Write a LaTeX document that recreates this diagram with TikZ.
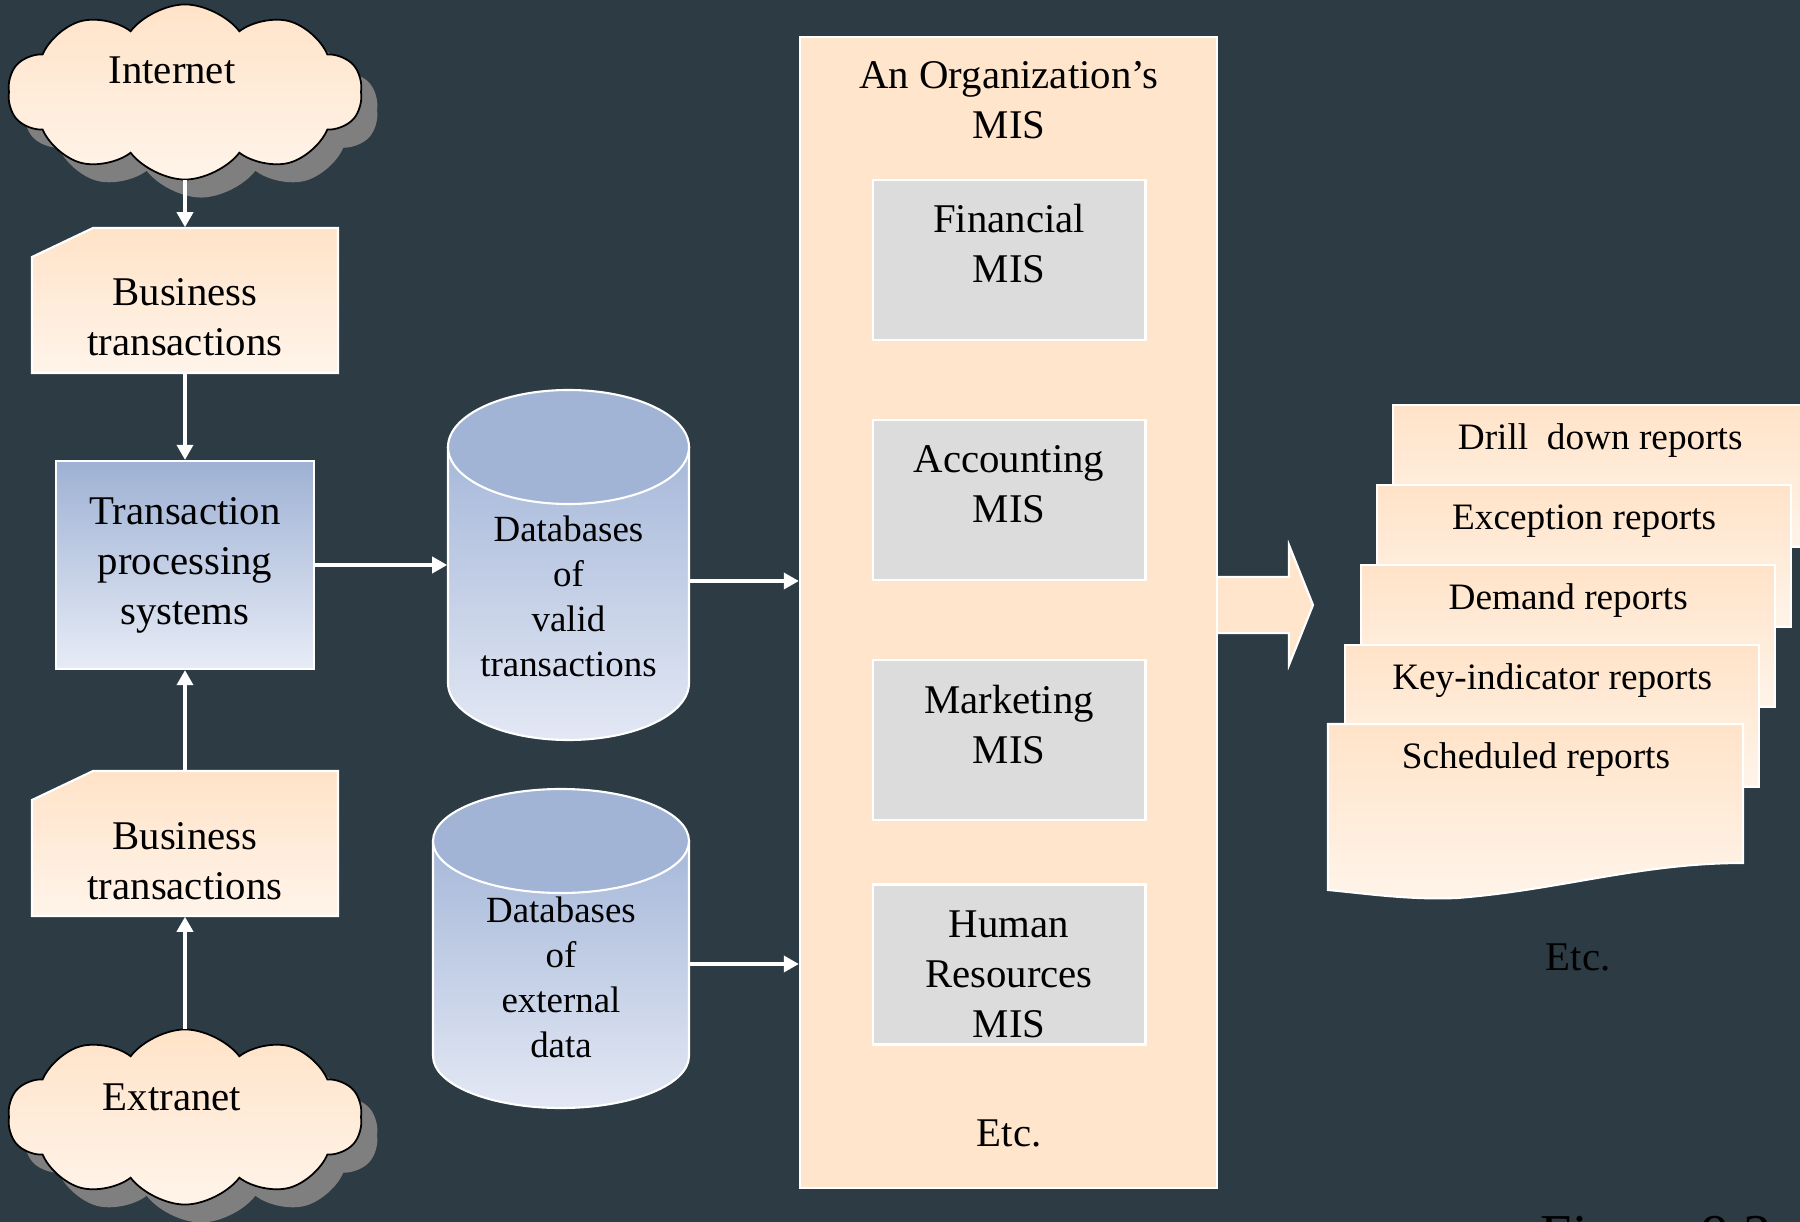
\documentclass[tikz,border=0pt]{standalone}
\usepackage{fontspec}
\setmainfont{Liberation Serif}
\usetikzlibrary{shapes.symbols, shadows, arrows.meta, calc}

\definecolor{bgdark}{HTML}{2C3B44}
\definecolor{peachtop}{HTML}{FFE3C8}
\definecolor{peachbot}{HTML}{FFF4EA}
\definecolor{misfill}{HTML}{FFE5CC}
\definecolor{subgray}{HTML}{DCDCDC}
\definecolor{tpstop}{HTML}{9EB1D4}
\definecolor{tpsbot}{HTML}{E7ECF6}
\definecolor{dbend}{HTML}{A2B4D6}
\definecolor{dbtop}{HTML}{A6B8D9}
\definecolor{dbbot}{HTML}{E3E8F4}
\definecolor{shadowgray}{HTML}{7F7F7F}

\newcommand{\mainsize}{\fontsize{11.6}{14.2}\selectfont}
\newcommand{\dbsize}{\fontsize{10.5}{12.8}\selectfont}
\newcommand{\repsize}{\fontsize{10.6}{12.6}\selectfont}

\tikzset{
  txt/.style={font=\mainsize, align=center, text=black, inner sep=0pt},
  arr/.style={draw=white, line width=1pt, -{Triangle[length=0.15cm, width=0.16cm]}},
  cloudy/.style={cloud, cloud puffs=10, cloud puff arc=105, aspect=2, inner sep=0pt,
    minimum width=3.54cm, minimum height=1.75cm, draw=black, line width=0.5pt,
    top color=peachtop, bottom color=peachbot,
    drop shadow={shadow xshift=0.16cm, shadow yshift=-0.18cm, fill=shadowgray, opacity=1}},
  bizfill/.style={draw=white, line width=0.6pt, top color=peachtop, bottom color=peachbot},
  bizbox/.style={minimum width=3.06cm, minimum height=1.45cm, inner sep=0pt},
  tpsbox/.style={txt, minimum width=2.57cm, minimum height=2.08cm, draw=white,
    line width=0.6pt, top color=tpstop, bottom color=tpsbot},
  dbbody/.style={draw=white, line width=0.6pt, top color=dbtop, bottom color=dbbot},
  dbtxt/.style={font=\dbsize, align=center, text=black, inner sep=0pt},
  misbox/.style={minimum width=4.17cm, minimum height=11.51cm, fill=misfill,
    draw=white, line width=0.6pt},
  subbox/.style={minimum width=2.72cm, minimum height=1.6cm, fill=subgray,
    draw=white, line width=0.8pt},
  report/.style={font=\repsize, text=black, minimum width=4.14cm, inner xsep=0pt,
    inner ysep=0pt, text height=0.44cm, text depth=0.98cm, draw=white,
    line width=0.6pt, top color=peachtop, bottom color=peachbot}
}

\begin{document}
\begin{tikzpicture}[x=0.01cm, y=-0.01cm]
  % Background
  \fill[bgdark] (0,0) rectangle (1800,1222);
  \useasboundingbox (0,0) rectangle (1800,1222);

  % Clouds
  \node[cloudy] (inet) at (185,92) {};
  \node[txt] (inettxt) at (172,70) {Internet};
  \node[cloudy] (extr) at (185,1117) {};
  \node[txt] (extrtxt) at (172,1097) {Extranet};

  % Business transactions
  \shade[bizfill] (32,373) -- (32,257) -- (93,228) -- (338,228) -- (338,373) -- cycle;
  \node[bizbox] (biz1) at (185,300.5) {};
  \node[txt] (biz1txt) at (185,317) {Business\\transactions};
  \shade[bizfill] (32,916) -- (32,800) -- (93,771) -- (338,771) -- (338,916) -- cycle;
  \node[bizbox] (biz2) at (185,843.5) {};
  \node[txt] (biz2txt) at (185,861) {Business\\transactions};

  % TPS
  \node[tpsbox] (tps) at (185,565) {Transaction\\processing\\systems};

  % Databases
  \shade[dbbody] (448,447) -- (448,683) arc[start angle=180, end angle=0, x radius=120.5, y radius=57] -- (689,447) -- cycle;
  \filldraw[fill=dbend, draw=white, line width=0.6pt] (568.5,447) ellipse[x radius=120.5, y radius=57];
  \node[dbtxt, minimum width=2.41cm] (db1) at (568.5,596) {Databases\\of\\valid\\transactions};
  \shade[dbbody] (433,841) -- (433,1056) arc[start angle=180, end angle=0, x radius=128, y radius=52] -- (689,841) -- cycle;
  \filldraw[fill=dbend, draw=white, line width=0.6pt] (561,841) ellipse[x radius=128, y radius=52];
  \node[dbtxt, minimum width=2.56cm] (db2) at (561,977) {Databases\\of\\external\\data};

  % Output arrow
  \filldraw[fill=misfill, draw=white, line width=0.6pt] (1217,577) -- (1289,577) -- (1289,545)
    -- (1313,605) -- (1289,665) -- (1289,633) -- (1217,633);

  % MIS
  \node[misbox] (mis) at (1008.5,612.5) {};
  \node[txt] (mistitle) at (1009,100) {An Organization’s\\MIS};
  \foreach \nm/\y/\dy/\txt in {fin/260/0.16/{Financial\\MIS}, acc/500/0.16/{Accounting\\MIS},
      mkt/740/0.15/{Marketing\\MIS}, hr/964.5/-0.1/{Human\\Resources\\MIS}} {
    \node[subbox] (\nm) at (1009,\y) {};
    \node[txt] (\nm txt) at ([yshift=\dy cm]\nm.center) {\txt};
  }
  \node[txt] (misetc) at (1009,1133) {Etc.};

  % Reports
  \foreach \i/\txt in {0/{Drill\ \ down reports}, 1/Exception reports, 2/Demand reports, 3/Key-indicator reports}
    \node[report, anchor=north west] (rep\i) at ({1392-16*\i},{404+80*\i}) {\txt};
  \shade[bizfill] (1328,890) -- (1328,724) -- (1743,724) -- (1743,863)
    .. controls (1640,863) and (1560,890) .. (1457,898)
    .. controls (1410,900) and (1370,894) .. (1328,890) -- cycle;
  \node[font=\repsize, text=black, inner sep=0pt] (rep4) at (1536,760) {Scheduled reports};
  \node[txt] (repetc) at (1578,957) {Etc.};

  % Connectors
  \draw[arr] (inet.south) -- (biz1.north);
  \draw[arr] (biz1.south) -- (tps.north);
  \draw[arr] (biz2.north) -- (tps.south);
  \draw[arr] (extr.north) -- (biz2.south);
  \draw[arr] (tps.east) -- (tps.east -| db1.west);
  \draw[arr] ([yshift=0.15cm]db1.east) -- ([yshift=0.15cm]db1.east -| mis.west);
  \draw[arr] ([yshift=0.13cm]db2.east) -- ([yshift=0.13cm]db2.east -| mis.west);

  % Caption, cut off by the page edge
  \node[font=\fontsize{16}{19}\selectfont, text=black, anchor=base west, inner sep=0pt] (fig) at (1540,1253) {Figure 9.3};
\end{tikzpicture}
\end{document}
